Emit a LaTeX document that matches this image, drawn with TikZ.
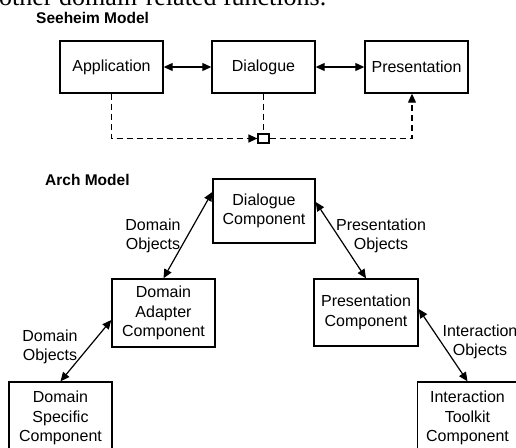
\documentclass[tikz,border=0pt]{standalone}
\usepackage{fontspec}
\setmainfont{Liberation Sans}
\newfontfamily\serifface{Liberation Serif}
\usetikzlibrary{arrows.meta}
\begin{document}
\begin{tikzpicture}[x=1pt,y=-1pt,
  box/.style={draw,line width=1.4pt,inner sep=0pt,align=center,font=\fontsize{16}{19.5}\selectfont},
  lbl/.style={align=center,font=\fontsize{16}{19.5}\selectfont,inner sep=0pt},
  titletext/.style={anchor=base west,font=\fontsize{15.5}{18}\selectfont\bfseries,inner sep=0pt},
  link/.style={line width=1.2pt,{Triangle[length=9pt,width=8pt]}-{Triangle[length=9pt,width=8pt]}},
  dashlink/.style={line width=1.2pt,dash pattern=on 6pt off 4pt},
]
\useasboundingbox (0,0) rectangle (516,447);
\clip (0,0) rectangle (516,447);

\node[anchor=base west,inner sep=0pt,font=\serifface\fontsize{26}{30}\selectfont] (intro) at (-1,5.5) {other domain-related functions.};

% Seeheim model
\node[titletext] (seeheim) at (36,23.5) {Seeheim Model};
\node[box,minimum width=103pt,minimum height=52pt] (app) at (111.5,67) {Application};
\node[box,minimum width=103pt,minimum height=52pt] (dia) at (263.5,67) {Dialogue};
\node[box,minimum width=103pt,minimum height=52pt] (pres) at (416.5,67) {Presentation};
\node[draw,line width=1.2pt,minimum width=11pt,minimum height=9pt,inner sep=0pt] (sq) at (263.5,138.5) {};

\draw[link] (app.east) -- (dia.west);
\draw[link] (dia.east) -- (pres.west);
\draw[dashlink,-{Triangle[length=9pt,width=8pt]}] (app.south) |- (sq.west);
\draw[dashlink] (dia.south) -- (sq.north);
\draw[dashlink,-{Triangle[length=9pt,width=8pt]}] (sq.east) -| ([xshift=-4.5pt]pres.south);

% Arch model
\node[titletext] (archt) at (45,185.5) {Arch Model};
\node[box,minimum width=102pt,minimum height=64pt] (dc) at (264,211) {Dialogue\\Component};
\node[box,minimum width=103pt,minimum height=68pt] (dac) at (163.5,313) {Domain\\Adapter\\Component};
\node[box,minimum width=103pt,minimum height=72pt] (dsc) at (60.5,418) {Domain\\Specific\\Component};
\node[box,minimum width=104pt,minimum height=67pt] (pc) at (366,312.5) {Presentation\\Component};
\node[box,minimum width=100pt,minimum height=72pt] (itc) at (467.5,418) {Interaction\\Toolkit\\Component};

\draw[link] (dsc.north) -- ([yshift=-7pt]dac.west);
\draw[link] (dac.north) -- ([yshift=19pt]dc.west);
\draw[link] ([yshift=9pt]dc.east) -- (pc.north);
\draw[link] ([yshift=3.5pt]pc.east) -- (itc.north);

\node[lbl] (l1) at (50,347) {Domain\\Objects};
\node[lbl] (l2) at (153,236) {Domain\\Objects};
\node[lbl] (l3) at (381,236) {Presentation\\Objects};
\node[lbl] (l4) at (480,342) {Interaction\\Objects};
\end{tikzpicture}
\end{document}
